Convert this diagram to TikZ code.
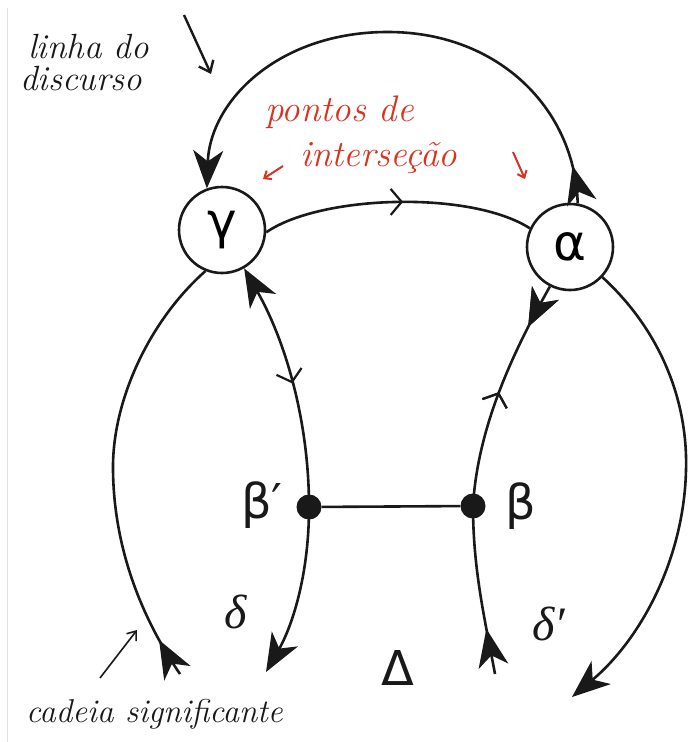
\documentclass[tikz,border=0pt]{standalone}
\usepackage{fontspec}
\newfontfamily\gsans{DejaVu Sans}
\newfontfamily\tms{Liberation Serif}
\usetikzlibrary{arrows.meta,decorations.markings}
\definecolor{hred}{RGB}{214,52,32}
\definecolor{ink}{RGB}{25,25,25}
\tikzset{
  bigtip/.tip={Stealth[length=38pt,width=30pt,inset=11pt]},
  chev/.tip={Straight Barb[length=11pt,width=26pt,line width=2.2pt]},
  curve/.style={line width=2.6pt, draw=ink},
  ring/.style={circle, draw=ink, line width=2.6pt, minimum size=86pt, inner sep=0pt, font=\gsans\fontsize{50}{50}\selectfont},
  dot/.style={circle, fill=ink, minimum size=25pt, inner sep=0pt},
  sym/.style={font=\gsans\fontsize{48}{48}\selectfont, text=ink},
  ital/.style={font=\tms\itshape\fontsize{48}{48}\selectfont, text=ink},
  hand/.style={font=\rmfamily\itshape\fontsize{35}{32}\selectfont, text=ink, inner sep=0pt},
  redhand/.style={font=\rmfamily\itshape\fontsize{37}{45}\selectfont, text=hred, inner sep=0pt},
  markfwd/.style={postaction={decorate}, decoration={markings, mark=at position #1 with {\arrow{bigtip}}}},
  chevfwd/.style={postaction={decorate}, decoration={markings, mark=at position #1 with {\arrow{chev}}}},
  chevback/.style={postaction={decorate}, decoration={markings, mark=at position #1 with {\arrowreversed{chev}}}},
}
\begin{document}
\begin{tikzpicture}[x=1pt,y=-1pt]
\useasboundingbox (0,0) rectangle (688,742);
\fill[white] (0,0) rectangle (688,742);
\draw[black!12, line width=1pt] (7,8) -- (7,742);

% main nodes
\node[ring] (g) at (222,230) {γ};
\node[ring] (a) at (570,247) {α};
\node[dot] (bp) at (309,507) {};
\node[dot] (b) at (473,506) {};

% free ends
\coordinate (lo) at (180,674);
\coordinate (dl) at (266,672);
\coordinate (dr) at (495,674);
\coordinate (ro) at (572,697);

% top arc (linha do discurso)
\draw[curve, -{bigtip}, markfwd=38pt] (a.80) .. controls (575,110) and (500,33) .. (390,32)
  .. controls (280,31) and (210,100) .. (g.110);
% middle arc
\draw[curve, chevfwd=0.52] (g.-3) .. controls (320,195) and (470,190) .. (a.155);
% left outer
\draw[curve, markfwd=40pt] (lo) .. controls (150,630) and (114,560) .. (113,470)
  .. controls (112,400) and (150,320) .. (g.248);
% left inner
\draw[curve, {bigtip}-, chevfwd=0.5] (g.300) .. controls (285,340) and (309,420) .. (bp.center);
\draw[curve, -{bigtip}] (bp.center) .. controls (309,580) and (290,630) .. (dl);
% right inner
\draw[curve, markfwd=46pt, chevback=0.5] (a.243) .. controls (520,340) and (478,420) .. (b.center);
\draw[curve, markfwd=46pt] (dr) .. controls (485,620) and (473,570) .. (b.center);
% right outer
\draw[curve, -{bigtip}] (a.317) .. controls (660,330) and (688,400) .. (686,470)
  .. controls (684,560) and (640,640) .. (ro);
% beta link
\draw[curve] (bp) -- (b);

% labels
\node[sym] (lbp) at (262,505) {β′};
\node[sym] (lb) at (521,506) {β};
\node[ital] (ld) at (236,612) {δ};
\node[ital] (ldp) at (549,624) {δ′};
\node[sym] (lD) at (398,668) {Δ};

% handwritten annotations
\node[hand, anchor=base west, align=left] (t1) at (20,90) {\hspace*{8pt}linha do\\discurso};
\coordinate (t1a) at (184,15);
\coordinate (t1b) at (211,74);
\draw[ink, line width=2.4pt, -{Straight Barb[length=10pt,width=16pt]}] (t1a) -- (t1b);

\node[redhand, anchor=base west, align=left] (r1) at (265,166) {pontos de\\\hspace*{35pt}interseção};
\coordinate (ra1) at (283,166);
\coordinate (ra2) at (263,179);
\coordinate (rb1) at (513,152);
\coordinate (rb2) at (525,179);
\draw[hred, line width=2pt, -{Straight Barb[length=6pt,width=10pt]}] (ra1) -- (ra2);
\draw[hred, line width=2pt, -{Straight Barb[length=6pt,width=10pt]}] (rb1) -- (rb2);

\node[hand, anchor=base west, font=\rmfamily\itshape\fontsize{33}{33}\selectfont] (t3) at (26,722) {cadeia significante};
\coordinate (c1) at (100,678);
\coordinate (c2) at (137,630);
\draw[ink, line width=1.6pt, -{Straight Barb[length=8pt,width=12pt]}] (c1) -- (c2);
\end{tikzpicture}
\end{document}
